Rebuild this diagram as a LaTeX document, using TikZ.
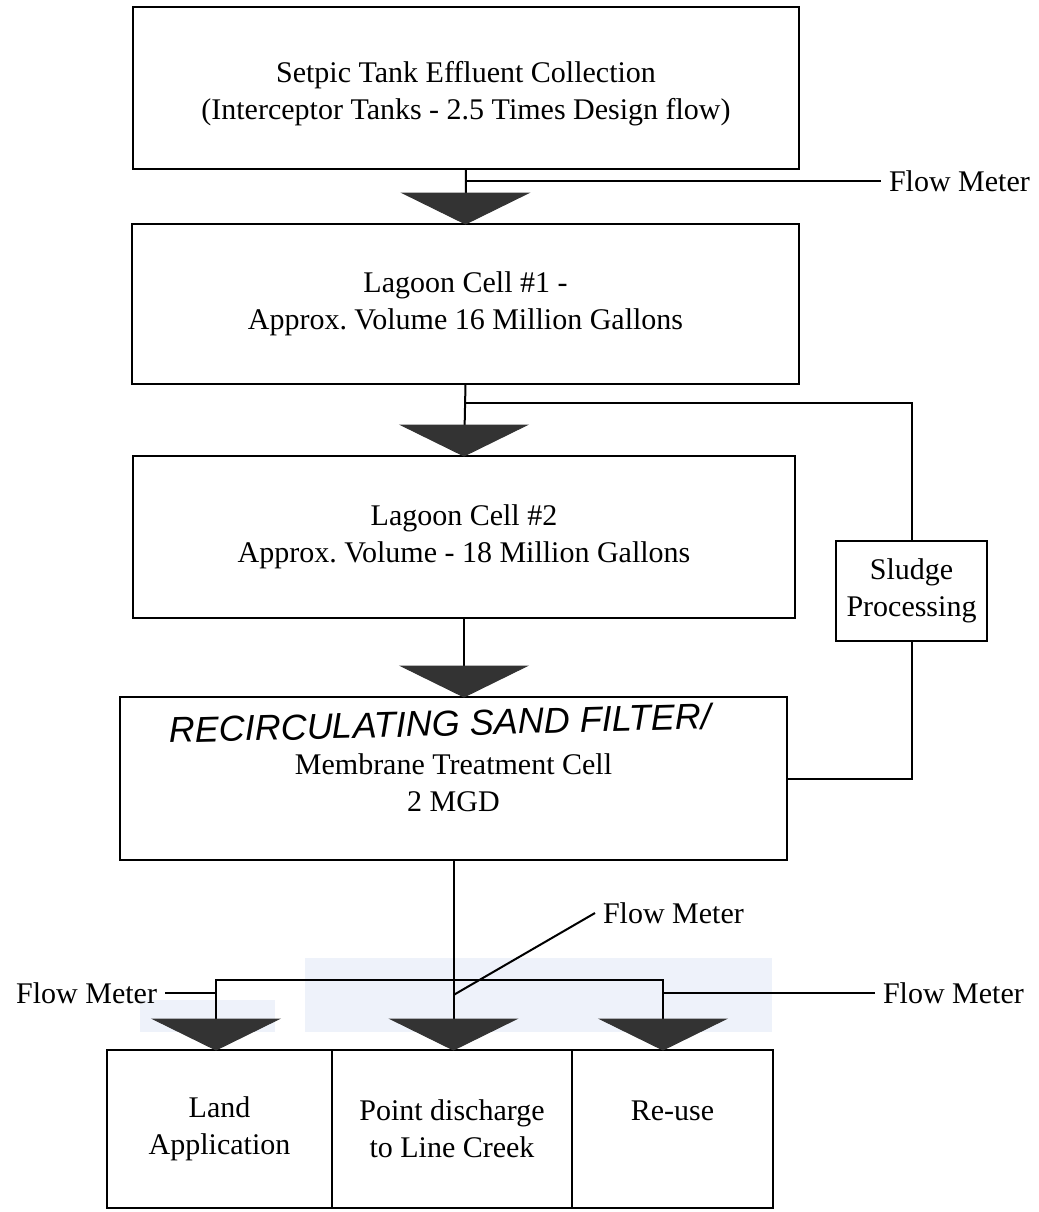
\documentclass[tikz,border=0pt]{standalone}
\usepackage{fontspec}
\setmainfont{Liberation Serif}
\setsansfont{Liberation Sans}
\definecolor{scanblue}{RGB}{238,242,250}

\begin{document}
\begin{tikzpicture}[x=0.5pt, y=-0.5pt, line width=1pt,
        box/.style={draw, rectangle, inner sep=0pt, outer sep=0pt, align=center, font=\fontsize{15}{18.5}\selectfont},
        meter/.style={inner xsep=4pt, inner ysep=0pt, outer sep=0pt, font=\fontsize{15}{18}\selectfont},
        funnel/.style={fill=black!80, draw=black!80, line width=0.5pt}]
        \useasboundingbox (0,0) rectangle (1039,1212);

        % Scan tint
        \fill[scanblue] (305,958) rectangle (772,1032);
        \fill[scanblue] (140,1000) rectangle (275,1032);

        % Draw nodes
        \node[box, minimum width=333pt, minimum height=81pt] (tank) at (466,88) {\\[-2pt]Setpic Tank Effluent Collection\\(Interceptor Tanks - 2.5 Times Design flow)};
        \node[box, minimum width=333.5pt, minimum height=80pt] (cell1) at (465.5,304) {Lagoon Cell \#1 -\\Approx.\ Volume 16 Million Gallons};
        \node[box, minimum width=331pt, minimum height=81pt] (cell2) at (464,537) {Lagoon Cell \#2\\Approx.\ Volume - 18 Million Gallons};
        \node[box, minimum width=75.5pt, minimum height=50pt] (sludge) at (911.5,591) {Sludge\\Processing};
        \node[box, minimum width=333.5pt, minimum height=81.5pt] (membrane) at (453.5,778.5) {\\[-4pt]Membrane Treatment Cell\\2 MGD};
        \node[box, minimum width=112.5pt, minimum height=79pt] (land) at (219.5,1129) {Land\\Application};
        \node[box, minimum width=120pt, minimum height=79pt] (creek) at (452,1129) {Point discharge\\to Line Creek};
        \node[box, minimum width=100.5pt, minimum height=79pt] (reuse) at (672.5,1129) {Re-use\\\mbox{}};

        % Labels
        \node[font=\sffamily\itshape\fontsize{18}{18}\selectfont, rotate=1.5, inner sep=0pt] (note) at (440,723) {RECIRCULATING SAND FILTER/};
        \node[meter, anchor=west] (meter1) at (881,181) {Flow Meter};
        \node[meter, anchor=west] (meter2) at (595,913) {Flow Meter};
        \node[meter, anchor=east] (meter3) at (165,993) {Flow Meter};
        \node[meter, anchor=west] (meter4) at (875,993) {Flow Meter};

        % Junctions
        \coordinate (tee1) at (466,181);
        \coordinate (tee2) at (465.5,403);
        \coordinate (tee3) at (453.5,995);
        \coordinate (bus) at (453.5,980);
        \coordinate (in3) at (cell2.south |- membrane.north);
        \coordinate (tipL) at (216,1050);
        \coordinate (tipM) at (membrane.south |- creek.north);
        \coordinate (tipR) at (663,1050);

        % Draw connections
        \draw (tank.south) -- (cell1.north);
        \draw (tee1) -- (meter1.west);
        \draw (cell1.south) -- (cell2.north);
        \draw (tee2) -| (sludge.north);
        \draw (sludge.south) |- (membrane.east);
        \draw (cell2.south) -- (in3);
        \draw (membrane.south) -- (tipM);
        \draw (tipL) |- (bus) -| (tipR);
        \draw (meter3.east) -- (meter3.east -| tipL);
        \draw (meter4.west) -- (meter4.west -| tipR);
        \draw (tee3) -- (meter2.west);

        % Funnels
        \foreach \p in {cell1.north, cell2.north, in3, tipL, tipM, tipR}
            \filldraw[funnel] (\p) -- ++(-63,-31) -- ++(126,0) -- cycle;
    \end{tikzpicture}
\end{document}
